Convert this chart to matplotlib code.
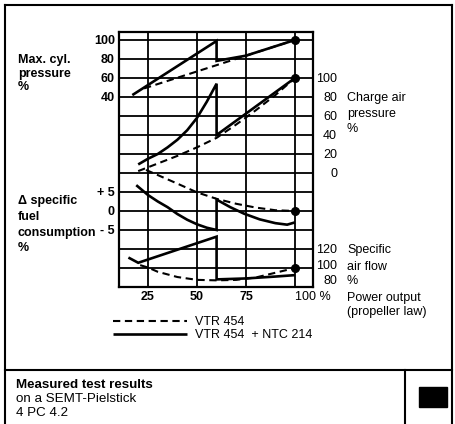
import matplotlib
matplotlib.use("Agg")
import matplotlib.pyplot as plt
from matplotlib.lines import Line2D
from matplotlib.patches import Rectangle
from matplotlib.transforms import ScaledTranslation

plt.rcParams['font.family'] = ['Liberation Sans', 'DejaVu Sans']

# ---------------- data ----------------
power_ticks = [25, 50, 75, 100]
power_labels = ['25', '50', '75', '100 %']

cyl_ticks = [40, 60, 80, 100]
charge_ticks = [0, 20, 40, 60, 80, 100]
fuel_ticks = [-5, 0, 5]
fuel_labels = ['- 5', '0', '+ 5']
air_ticks = [80, 100, 120]

# Max. cylinder pressure %
cyl_vtr_x = [23, 100]
cyl_vtr_y = [49, 100]
cyl_ntc_x = [17, 60, 60, 75, 100]
cyl_ntc_y = [42, 99, 78, 83.5, 100]

# Charge air pressure %
charge_vtr_x = [20, 30, 40, 50, 60, 70, 80, 90, 100]
charge_vtr_y = [2, 10, 18, 27, 37, 51, 66, 82, 100]
charge_ntc_x = [20, 25, 30, 35, 40, 45, 50, 55, 60, 60, 100]
charge_ntc_y = [9, 15, 20, 27, 35, 45, 58, 75, 94, 40, 100]

# Delta specific fuel consumption %
fuel_vtr_x = [24, 32, 40, 50, 60, 70, 80, 90, 100]
fuel_vtr_y = [10.8, 9.0, 7.2, 4.9, 3.2, 1.9, 0.9, 0.2, 0]
fuel_ntc_x = [19, 25, 30, 35, 40, 45, 50, 55, 60, 60, 67, 74, 82, 90, 96, 100]
fuel_ntc_y = [6.8, 4.2, 2.5, 1.0, -0.8, -2.3, -3.5, -4.4, -5.0, 3.0, 1.0, -0.7, -2.2, -3.2, -3.6, -3.0]

# Specific air flow %
air_vtr_x = [21, 25, 30, 40, 50, 60, 70, 80, 90, 100]
air_vtr_y = [103, 100.5, 96, 90.5, 87.5, 87, 87.5, 90, 95, 100]
air_ntc_x = [15, 20, 60, 60, 75, 90, 100]
air_ntc_y = [111, 105.5, 133, 88, 89, 91, 92.5]

end_x = [100]
end_cyl, end_charge, end_fuel, end_air = [100], [100], [0], [100]

# ---------------- layout ----------------
W, H = 456, 424
fig = plt.figure(figsize=(W / 100, H / 100), dpi=100)
fig.patch.set_facecolor('white')


def fx(px):
    return px / W


def fy(py):
    return 1 - py / H


L, R, T, B = 119, 313, 32, 287
FS = 9
ax = fig.add_axes([fx(L), fy(B), (R - L) / W, (B - T) / H])
ax.set_xlim(10.2, 109.2)
ax.set_ylim(0, 13.42)
ax.set_yticks(range(1, 14))
ax.set_xticks(power_ticks)
ax.set_xticklabels(power_labels, fontweight='bold', fontsize=FS)
ax.tick_params(axis='x', length=0, pad=3)
ax.tick_params(axis='y', length=0, left=False, labelleft=False, right=False, labelright=False)
ax.grid(True, color='black', lw=1.3)
for s in ax.spines.values():
    s.set_linewidth(1.6)
ax.get_xticklabels()[-1].set_horizontalalignment('left')
ax.get_xticklabels()[-1].set_fontweight('normal')


def twin(lo, hi):
    t = ax.twinx()
    t.set_ylim(lo, hi)
    for s in t.spines.values():
        s.set_visible(False)
    return t


ax_cyl = twin(-160, 108.4)
ax_chg = twin(-120, 148.4)
ax_fuel = twin(-20, 47.1)
ax_air = twin(80, 348.4)

for t, ticks, labels, side, weight in [
        (ax_cyl, cyl_ticks, [str(v) for v in cyl_ticks], 'left', 'bold'),
        (ax_fuel, fuel_ticks, fuel_labels, 'left', 'bold'),
        (ax_chg, charge_ticks, [str(v) for v in charge_ticks], 'right', 'normal'),
        (ax_air, air_ticks, [str(v) for v in air_ticks], 'right', 'normal')]:
    t.set_yticks(ticks)
    t.set_yticklabels(labels, fontweight=weight, fontsize=FS)
    if side == 'left':
        t.yaxis.tick_left()
        t.tick_params(axis='y', length=0, pad=2.9)
    else:
        t.yaxis.tick_right()
        t.tick_params(axis='y', length=0, pad=17.3)
        for lab in t.get_yticklabels():
            lab.set_horizontalalignment('right')

# the air-flow scale labels sit a little above their grid lines in the original
for lab, dy in zip(ax_air.get_yticklabels(), [7, 3, 0]):
    lab.set_transform(lab.get_transform() + ScaledTranslation(0, dy / 100, fig.dpi_scale_trans))

SOLID = dict(color='black', lw=1.9, solid_capstyle='butt', solid_joinstyle='miter')
DASH = dict(color='black', lw=1.5, linestyle=(0, (3.5, 2.2)))
DOT = dict(color='black', marker='o', ms=5.5, linestyle='none')

h_dash, = ax_cyl.plot(cyl_vtr_x, cyl_vtr_y, **DASH)
h_solid, = ax_cyl.plot(cyl_ntc_x, cyl_ntc_y, **SOLID)
ax_cyl.plot(end_x, end_cyl, **DOT)

ax_chg.plot(charge_vtr_x, charge_vtr_y, **DASH)
ax_chg.plot(charge_ntc_x, charge_ntc_y, **SOLID)
ax_chg.plot(end_x, end_charge, **DOT)

ax_fuel.plot(fuel_vtr_x, fuel_vtr_y, **DASH)
ax_fuel.plot(fuel_ntc_x, fuel_ntc_y, **SOLID)
ax_fuel.plot(end_x, end_fuel, **DOT)

ax_air.plot(air_vtr_x, air_vtr_y, **DASH)
ax_air.plot(air_ntc_x, air_ntc_y, **SOLID)
ax_air.plot(end_x, end_air, **DOT)

# legend
fig.legend([h_dash, h_solid], ['VTR 454', 'VTR 454  + NTC 214'],
           loc='upper left', bbox_to_anchor=(fx(113), fy(316)),
           frameon=False, fontsize=FS, handlelength=5.9, handletextpad=0.64,
           borderpad=0, borderaxespad=0, labelspacing=0.1)


# side labels
def label(px, base, s, weight='normal', size=FS):
    fig.text(fx(px), fy(base), s, ha='left', va='baseline', fontsize=size, fontweight=weight)


for s, b in [('Max. cyl.', 62.5), ('pressure', 76.5), ('%', 89.5)]:
    label(18, b, s, 'bold')
for s, b in [('\u0394 specific', 204.5), ('fuel', 220), ('consumption', 236), ('%', 251)]:
    label(18, b, s, 'bold')
for s, b in [('Charge air', 101.5), ('pressure', 116.5), ('%', 131.5)]:
    label(347, b, s)
for s, b in [('Specific', 253.5), ('air flow', 269.5), ('%', 284.5)]:
    label(347, b, s)
for s, b in [('Power output', 301.5), ('(propeller law)', 314.5)]:
    label(347, b, s)
label(16, 387.5, 'Measured test results', 'bold', 9.6)
label(16, 401.5, 'on a SEMT-Pielstick', 'normal', 9.6)
label(16, 415.5, '4 PC 4.2', 'normal', 9.6)

# frame and boxes
frame = dict(color='black', lw=1.5, transform=fig.transFigure)
fig.add_artist(Line2D([fx(5.5), fx(5.5)], [fy(5), fy(424)], **frame))
fig.add_artist(Line2D([fx(5.5), fx(452)], [fy(5), fy(5)], **frame))
fig.add_artist(Line2D([fx(452), fx(452)], [fy(5), fy(424)], **frame))
fig.add_artist(Line2D([fx(5.5), fx(452)], [fy(370), fy(370)], **frame))
fig.add_artist(Line2D([fx(405), fx(405)], [fy(370), fy(424)], **frame))
fig.add_artist(Rectangle((fx(419), fy(407)), (447 - 419) / W, (407 - 387) / H,
                         color='black', transform=fig.transFigure))

fig.savefig('out.png', dpi=100, facecolor='white')
